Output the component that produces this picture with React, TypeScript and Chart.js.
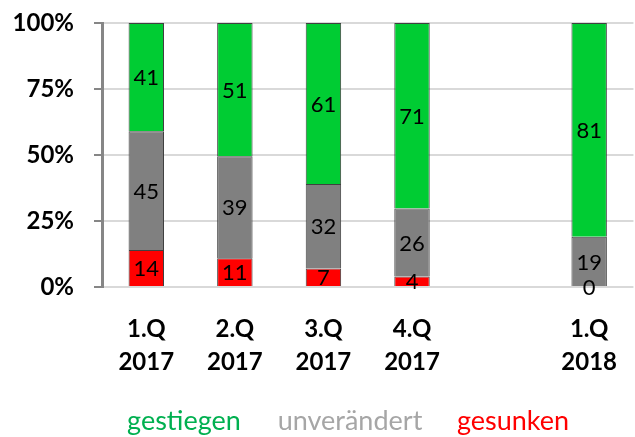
import React, { useEffect, useRef } from "react";
import { Chart, registerables } from "chart.js";

Chart.register(...registerables);

const categories: (string | string[])[] = [
  ["1.Q", "2017"],
  ["2.Q", "2017"],
  ["3.Q", "2017"],
  ["4.Q", "2017"],
  "",
  ["1.Q", "2018"],
];
const gesunken: (number | null)[] = [14, 11, 7, 4, null, 0];
const unveraendert: (number | null)[] = [45, 39, 32, 26, null, 19];
const gestiegen: (number | null)[] = [41, 51, 61, 71, null, 81];
const yTicks = [0, 25, 50, 75, 100];
const legendNames = ["gestiegen", "unverändert", "gesunken"];

const sums = categories.map((_, i) =>
  (gesunken[i] ?? 0) + (unveraendert[i] ?? 0) + (gestiegen[i] ?? 0)
);
const pct = (arr: (number | null)[]) =>
  arr.map((v, i) => (v == null || sums[i] === 0 ? null : (v / sums[i]) * 100));

const FONT = "Lato, 'Open Sans', sans-serif";

export default function App() {
  const ref = useRef<HTMLCanvasElement | null>(null);

  useEffect(() => {
    if (!ref.current) return;
    const raw = [gesunken, unveraendert, gestiegen];

    const labelPlugin = {
      id: "segLabels",
      afterDatasetsDraw(chart: any) {
        const ctx = chart.ctx;
        ctx.save();
        ctx.font = `22px ${FONT}`;
        ctx.fillStyle = "#000";
        ctx.textAlign = "center";
        ctx.textBaseline = "middle";
        chart.data.datasets.forEach((ds: any, di: number) => {
          const meta = chart.getDatasetMeta(di);
          meta.data.forEach((el: any, i: number) => {
            const v = raw[di][i];
            if (v == null) return;
            const y = (el.y + el.base) / 2;
            ctx.fillText(String(v), el.x, y + 1);
          });
        });
        ctx.restore();
      },
    };

    const legendPlugin = {
      id: "textLegend",
      afterDraw(chart: any) {
        const ctx = chart.ctx;
        ctx.save();
        ctx.font = `27px ${FONT}`;
        ctx.textAlign = "center";
        ctx.textBaseline = "alphabetic";
        const xs = [184, 350, 513];
        const cols = ["#00B050", "#A6A6A6", "#FF0000"];
        legendNames.forEach((n, i) => {
          ctx.fillStyle = cols[i];
          ctx.fillText(n, xs[i], 430);
        });
        ctx.restore();
      },
    };

    const chart = new Chart(ref.current, {
      type: "bar",
      data: {
        labels: categories,
        datasets: [
          {
            label: legendNames[2],
            data: pct(gesunken),
            backgroundColor: "#FF0000",
            borderColor: "#404040",
            borderWidth: 1,
          },
          {
            label: legendNames[1],
            data: pct(unveraendert),
            backgroundColor: "#808080",
            borderColor: "#404040",
            borderWidth: 1,
          },
          {
            label: legendNames[0],
            data: pct(gestiegen),
            backgroundColor: "#00CC33",
            borderColor: "#404040",
            borderWidth: 1,
          },
        ],
      },
      options: {
        responsive: false,
        animation: false,
        layout: { padding: { top: 23, right: 0, bottom: 0, left: 0 } },
        datasets: { bar: { categoryPercentage: 1, barPercentage: 0.4 } },
        plugins: { legend: { display: false }, tooltip: { enabled: false } },
        scales: {
          x: {
            stacked: true,
            grid: { display: false, drawTicks: false },
            border: { display: false },
            ticks: {
              color: "#000",
              padding: 25,
              maxRotation: 0,
              autoSkip: false,
              font: { family: FONT, size: 24, weight: "bold", lineHeight: 1.4 },
            },
            afterFit(scale: any) {
              scale.height = 150;
            },
          },
          y: {
            stacked: true,
            min: 0,
            max: 100,
            afterBuildTicks(scale: any) {
              scale.ticks = yTicks.map((v) => ({ value: v }));
            },
            grid: {
              color: "#D9D9D9",
              lineWidth: 2,
              tickColor: "#868686",
              tickLength: 8,
              drawTicks: true,
            },
            border: { display: true, color: "#868686", width: 3 },
            ticks: {
              color: "#000",
              padding: 20,
              font: { family: FONT, size: 24, weight: "bold" },
              callback: (v: any) => `${v}%`,
            },
            afterFit(scale: any) {
              scale.width = 102;
              scale.paddingTop = 0;
              scale.paddingBottom = 0;
            },
          },
        },
      },
      plugins: [labelPlugin, legendPlugin],
    });
    return () => chart.destroy();
  }, []);

  return (
    <div
      style={{
        position: "absolute",
        left: 0,
        top: 0,
        width: 635,
        height: 437,
        overflow: "hidden",
        background: "#fff",
      }}
    >
      <canvas ref={ref} width={642} height={437} style={{ display: "block" }} />
    </div>
  );
}
